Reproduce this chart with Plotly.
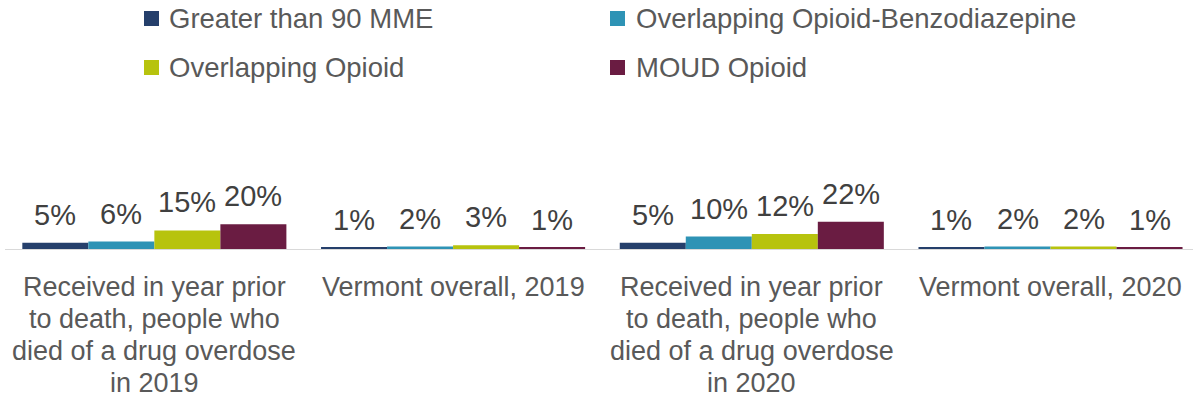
import plotly.graph_objects as go

# Share of people receiving each prescription type
categories = [
    "Received in year prior<br>to death, people who<br>died of a drug overdose<br>in 2019",
    "Vermont overall, 2019",
    "Received in year prior<br>to death, people who<br>died of a drug overdose<br>in 2020",
    "Vermont overall, 2020",
]
series_names = [
    "Greater than 90 MME",
    "Overlapping Opioid-Benzodiazepine",
    "Overlapping Opioid",
    "MOUD Opioid",
]
mme_90 = [5, 1, 5, 1]
opioid_benzo = [6, 2, 10, 2]
overlap_opioid = [15, 3, 12, 2]
moud_opioid = [20, 1, 22, 1]
series_values = [mme_90, opioid_benzo, overlap_opioid, moud_opioid]
colors = ["#253F6B", "#2E93B5", "#B7C30E", "#6A1C42"]

W, H = 1193, 400
L, R, T, B = 5, 0, 125, 151
FONT = "Liberation Sans, Arial, sans-serif"
BARGAP = 0.116
x_idx = list(range(len(categories)))
bar_w = (1 - BARGAP) / len(series_names)


def px_x(px):
    return (px - L) / (W - L - R)


def px_y(py):
    return (H - B - py) / (H - T - B)


fig = go.Figure()
annotations = []
for i, (name, vals, col) in enumerate(zip(series_names, series_values, colors)):
    fig.add_trace(go.Bar(
        x=x_idx, y=vals, name=name, marker=dict(color=col, line=dict(width=0)),
        showlegend=False, hoverinfo="skip",
    ))
    offset = (i - (len(series_names) - 1) / 2) * bar_w
    for xi, v in zip(x_idx, vals):
        annotations.append(dict(
            x=xi + offset, y=v, xref="x", yref="y", text=f"{v}%",
            showarrow=False, yanchor="bottom", xanchor="center", yshift=10,
            font=dict(family=FONT, size=29, color="#404040"),
        ))

# Category labels, one line at a time with tight line spacing
LINE_TOP, LINE_STEP = 287, 32
for xi, label in zip(x_idx, categories):
    for j, line in enumerate(label.split("<br>")):
        annotations.append(dict(
            x=xi, y=px_y(LINE_TOP + j * LINE_STEP), xref="x", yref="paper",
            text=line, showarrow=False, xanchor="center", yanchor="middle",
            font=dict(family=FONT, size=27, color="#595959"),
        ))

# Two-column legend drawn as swatches and labels
shapes = []
legend_cols = [(144, 167), (610, 634)]
legend_rows = [18.5, 67.5]
for i, (name, col) in enumerate(zip(series_names, colors)):
    sx, tx = legend_cols[i % 2]
    cy = legend_rows[i // 2]
    shapes.append(dict(
        type="rect", xref="paper", yref="paper",
        x0=px_x(sx), x1=px_x(sx + 15), y0=px_y(cy - 7.5), y1=px_y(cy + 7.5),
        fillcolor=col, line=dict(width=0),
    ))
    annotations.append(dict(
        x=px_x(tx), y=px_y(cy), xref="paper", yref="paper", text=name,
        showarrow=False, xanchor="left", yanchor="middle",
        font=dict(family=FONT, size=27.5, color="#595959"),
    ))

fig.update_layout(
    width=W, height=H,
    margin=dict(l=L, r=R, t=T, b=B, pad=0),
    barmode="group", bargap=BARGAP, bargroupgap=0,
    plot_bgcolor="white", paper_bgcolor="white",
    annotations=annotations, shapes=shapes,
    xaxis=dict(
        range=[-0.5, 3.477], tickmode="array", tickvals=x_idx,
        showticklabels=False, showline=True, linecolor="#D9D9D9", linewidth=1,
        showgrid=False, zeroline=False, ticks="", fixedrange=True,
    ),
    yaxis=dict(range=[0, 100], visible=False, fixedrange=True),
)

fig.write_html("out.html", config={"displayModeBar": False})
